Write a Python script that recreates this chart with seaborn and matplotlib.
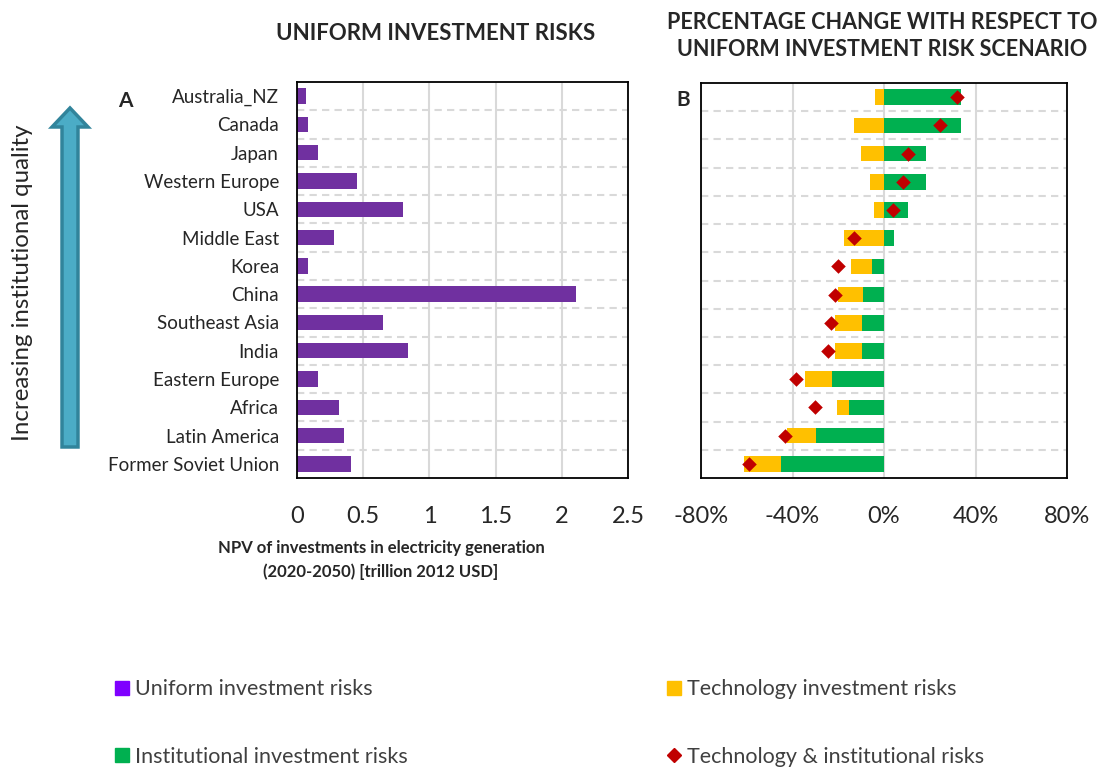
import numpy as np
import matplotlib
matplotlib.use('Agg')
import matplotlib.pyplot as plt
from matplotlib.patches import FancyArrow
from matplotlib.lines import Line2D
import seaborn as sns

regions = ['Australia_NZ', 'Canada', 'Japan', 'Western Europe', 'USA', 'Middle East', 'Korea',
           'China', 'Southeast Asia', 'India', 'Eastern Europe', 'Africa', 'Latin America',
           'Former Soviet Union']
# NPV of investments, trillion 2012 USD
uniform = [0.07, 0.08, 0.16, 0.45, 0.80, 0.28, 0.08, 2.11, 0.65, 0.84, 0.16, 0.32, 0.355, 0.41]
# % change vs uniform risk scenario
tech = [-3.9, -13.0, -9.9, -6.1, -4.5, -17.7, -9.3, -10.9, -11.7, -11.7, -11.5, -5.5, -12.4, -16.2]
inst = [33.6, 33.6, 18.2, 18.2, 10.7, 4.5, -5.3, -9.1, -9.8, -9.8, -22.9, -15.2, -29.8, -45.1]
both = [32.0, 24.4, 10.5, 8.3, 3.8, -13.1, -20.0, -21.6, -23.2, -24.5, -38.5, -30.1, -43.1, -59.1]

ticks_a = [0, 0.5, 1, 1.5, 2, 2.5]
ticks_b = [-80, -40, 0, 40, 80]

purple = '#7030A0'
yellow = '#FFC000'
green = '#00B050'
red = '#C00000'
grid_c = '#D9D9D9'

sns.set_style('white')
plt.rcParams['font.family'] = ['Lato', 'DejaVu Sans']

fig = plt.figure(figsize=(11.05, 7.69), dpi=100)
W, H = 1105, 769
axA = fig.add_axes([297 / W, 1 - 478 / H, 331 / W, 396 / H])
axB = fig.add_axes([701 / W, 1 - 478 / H, 366 / W, 395 / H])

# panel A
sns.barplot(x=uniform, y=regions, orient='h', color=purple, width=0.55,
            saturation=1, linewidth=0, ax=axA)
axA.set_xlim(0, 2.5)
axA.set_xticks(ticks_a)
axA.set_xticklabels([f'{t:g}' for t in ticks_a])

# panel B: yellow stacks on green when both are negative
yellow_end = [t + i if i < 0 else t for t, i in zip(tech, inst)]
sns.barplot(x=yellow_end, y=regions, orient='h', color=yellow, width=0.55,
            saturation=1, linewidth=0, ax=axB)
sns.barplot(x=inst, y=regions, orient='h', color=green, width=0.55,
            saturation=1, linewidth=0, ax=axB)
sns.scatterplot(x=both, y=regions, marker='D', color=red, s=55, linewidth=0,
                ax=axB, zorder=4)
axB.set_xlim(-80, 80)
axB.set_xticks(ticks_b)
axB.set_xticklabels([f'{t}%' for t in ticks_b])
axB.set_yticklabels([])

for ax, ticks in [(axA, ticks_a), (axB, ticks_b)]:
    ax.set_ylim(len(regions) - 0.5, -0.5)
    ax.set_xlabel('')
    ax.set_ylabel('')
    for t in ticks:
        ax.axvline(t, color=grid_c, lw=1.5, zorder=0)
    for k in range(len(regions) - 1):
        ax.axhline(k + 0.5, color=grid_c, lw=1.5, ls=(0, (3.5, 2.5)), zorder=0)
    ax.tick_params(axis='both', length=0)
    ax.tick_params(axis='x', labelsize=17, pad=20)
    ax.tick_params(axis='y', labelsize=13.5, pad=13)
    for s in ax.spines.values():
        s.set_visible(True)
        s.set_color('black')
        s.set_linewidth(1.3)

fig.text(436 / W, 1 - 33 / H, 'UNIFORM INVESTMENT RISKS', ha='center', va='center',
         fontsize=16, fontweight='bold')
fig.text(882 / W, 1 - 36 / H, 'PERCENTAGE CHANGE WITH RESPECT TO\nUNIFORM INVESTMENT RISK SCENARIO',
         ha='center', va='center', fontsize=15.5, fontweight='bold', linespacing=1.3)
fig.text(381 / W, 1 - 560 / H, 'NPV of investments in electricity generation\n(2020-2050) [trillion 2012 USD]',
         ha='center', va='center', fontsize=12, fontweight='bold', linespacing=1.55)
fig.text(125 / W, 1 - 101 / H, 'A', ha='center', va='center', fontsize=15, fontweight='bold')
fig.text(683 / W, 1 - 100 / H, 'B', ha='center', va='center', fontsize=15, fontweight='bold')

# arrow for institutional quality
over = fig.add_axes([0, 0, 1, 1], zorder=-1)
over.set_xlim(0, W)
over.set_ylim(H, 0)
over.axis('off')
over.add_patch(FancyArrow(70, 447, 0, -339, width=16, head_width=36, head_length=19,
                          length_includes_head=True, facecolor='#4BACC6',
                          edgecolor='#31849B', lw=2.5))
fig.text(23 / W, 1 - 283 / H, 'Increasing institutional quality', rotation=90,
         ha='center', va='center', fontsize=17.3)

handles = [
    Line2D([], [], ls='', marker='s', color='#7F00FF', markersize=10),
    Line2D([], [], ls='', marker='s', color=green, markersize=10),
    Line2D([], [], ls='', marker='s', color=yellow, markersize=10),
    Line2D([], [], ls='', marker='D', color=red, markersize=7),
]
labels = ['Uniform investment risks', 'Institutional investment risks',
          'Technology investment risks', 'Technology & institutional risks']
fig.legend(handles, labels, ncol=2, loc='upper left', bbox_to_anchor=(96 / W, 1 - 660 / H),
           frameon=False, fontsize=15.5, labelcolor='#404040', handlelength=0.6,
           handletextpad=0.3, labelspacing=2.2, columnspacing=12.1)

fig.savefig('out.png', dpi=100)
